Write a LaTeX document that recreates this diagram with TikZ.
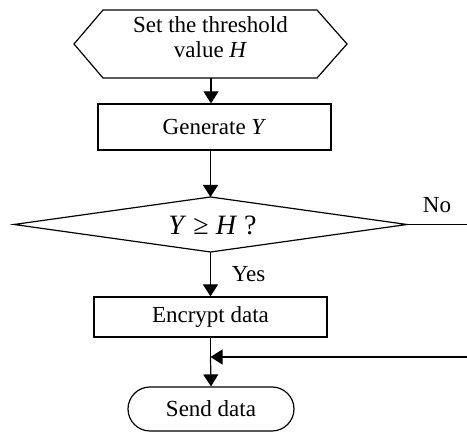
\documentclass[tikz,border=0pt]{standalone}
\usepackage{fontspec}
\setmainfont{Liberation Serif}
\usetikzlibrary{shapes.misc,arrows.meta}
\begin{document}
\begin{tikzpicture}[x=0.5pt,y=-0.5pt,
  every node/.style={font=\fontsize{11.5}{12.5}\selectfont, inner sep=0pt},
  ln/.style={line width=0.6pt, draw=black},
  box/.style={ln, rectangle},
  decisiontext/.style={font=\fontsize{14}{16}\selectfont},
  terminal/.style={ln, rounded rectangle},
  flow/.style={ln, -{Triangle[length=6pt,width=7.5pt]}}]
\useasboundingbox (0,0) rectangle (467,432);
% hexagon (preparation)
\coordinate (hw) at (74,44);
\coordinate (hnw) at (103,10);
\coordinate (hne) at (317,10);
\coordinate (he) at (347,44);
\coordinate (hse) at (317,78);
\coordinate (hsw) at (103,78);
\draw[ln] (hw) -- (hnw) -- (hne) -- (he) -- (hse) -- (hsw) -- cycle;
\node[align=center] (hex) at (210.5,37) {Set the threshold\\value \textit{H}};
\coordinate (hexb) at (211,78);
% decision diamond
\coordinate (dw) at (14,224.5);
\coordinate (dn) at (210.5,197);
\coordinate (de) at (407,224.5);
\coordinate (ds) at (210.5,252);
\draw[ln] (dw) -- (dn) -- (de) -- (ds) -- cycle;
\node[decisiontext] (dia) at (212.5,225) {\textit{Y} ≥ \textit{H} ?};
% nodes
\node[box, minimum width=116.5pt, minimum height=23pt] (gen) at (214.5,127) {Generate \textit{Y}};
\node[box, minimum width=116.5pt, minimum height=20pt] (enc) at (210.5,317) {Encrypt data};
\node[terminal, minimum width=83pt, minimum height=22pt] (send) at (211,409) {Send data};
\node (no) at (437,205.5) {No};
\node (yes) at (248.5,274) {Yes};
% connectors
\draw[flow] (hexb) -- (hexb |- gen.north);
\draw[flow] (dn |- gen.south) -- (dn);
\draw[flow] (ds) -- (ds |- enc.north);
\coordinate (m) at (210.5,357);
\draw[ln] (enc.south) -- (m);
\draw[flow] (m) -- (send.north);
\coordinate (r) at (467,357);
\draw[flow] (r) -- (m);
\coordinate (dr) at (467,224.5);
\draw[ln] (de) -- (dr);
\end{tikzpicture}
\end{document}
